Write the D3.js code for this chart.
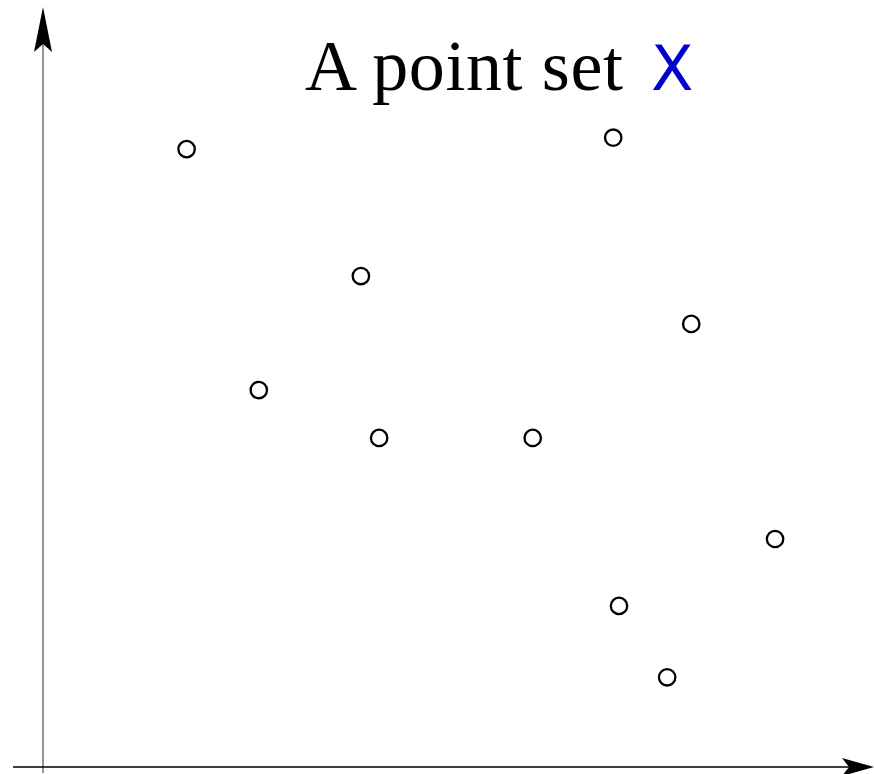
<!DOCTYPE html>
<html>
<head>
<meta charset="utf-8">
<script src="https://cdn.jsdelivr.net/npm/d3@7"></script>
<style>
  body { margin: 0; background: white; }
</style>
</head>
<body>
<div id="canvas"></div>
<script>
"use strict"

let svgWidth = 874;
let svgHeight = 774;

// point set, in axis units
let xValues = [1.73, 6.87, 3.83, 7.81, 2.60, 4.05, 5.90, 8.82, 6.94, 7.52];
let yValues = [8.13, 8.28, 6.46, 5.83, 4.96, 4.33, 4.33, 3.00, 2.12, 1.18];

let points = xValues.map(function (x, i) {
    return { x: x, y: yValues[i] };
});

let svg = d3.select("#canvas")
    .append("svg")
    .attr("width", svgWidth)
    .attr("height", svgHeight);

let xScale = d3.scaleLinear()
    .domain([0, 10])
    .range([43, 873]);

let yScale = d3.scaleLinear()
    .domain([0, 10])
    .range([767, 7]);

// AXES

svg.append("line")
    .attr("x1", 43)
    .attr("y1", 773)
    .attr("x2", 43)
    .attr("y2", 40)
    .attr("stroke", "#707070")
    .attr("stroke-width", 1.5);

svg.append("line")
    .attr("x1", 13)
    .attr("y1", 767)
    .attr("x2", 850)
    .attr("y2", 767)
    .attr("stroke", "black")
    .attr("stroke-width", 1.5);

// arrow heads
svg.append("path")
    .attr("d", "M43,7 L52,52 L43,44 L34,52 Z")
    .attr("fill", "black");

svg.append("path")
    .attr("d", "M874,767 L842,758 L849,767 L842,776 Z")
    .attr("fill", "black");

// POINTS

svg.selectAll("circle.point")
    .data(points)
    .join("circle")
    .attr("class", "point")
    .attr("cx", function (d) { return xScale(d.x); })
    .attr("cy", function (d) { return yScale(d.y); })
    .attr("r", 8.2)
    .attr("fill", "white")
    .attr("stroke", "black")
    .attr("stroke-width", 2.3);

// TITLE

svg.append("text")
    .attr("x", 305)
    .attr("y", 90)
    .attr("textLength", 318)
    .attr("lengthAdjust", "spacing")
    .style("font-family", "'Liberation Serif', serif")
    .style("font-size", "72px")
    .text("A point set");

svg.append("text")
    .attr("x", 651)
    .attr("y", 90)
    .style("font-family", "'DejaVu Sans', sans-serif")
    .style("font-size", "62px")
    .attr("fill", "#0000cc")
    .text("X");
</script>
</body>
</html>
